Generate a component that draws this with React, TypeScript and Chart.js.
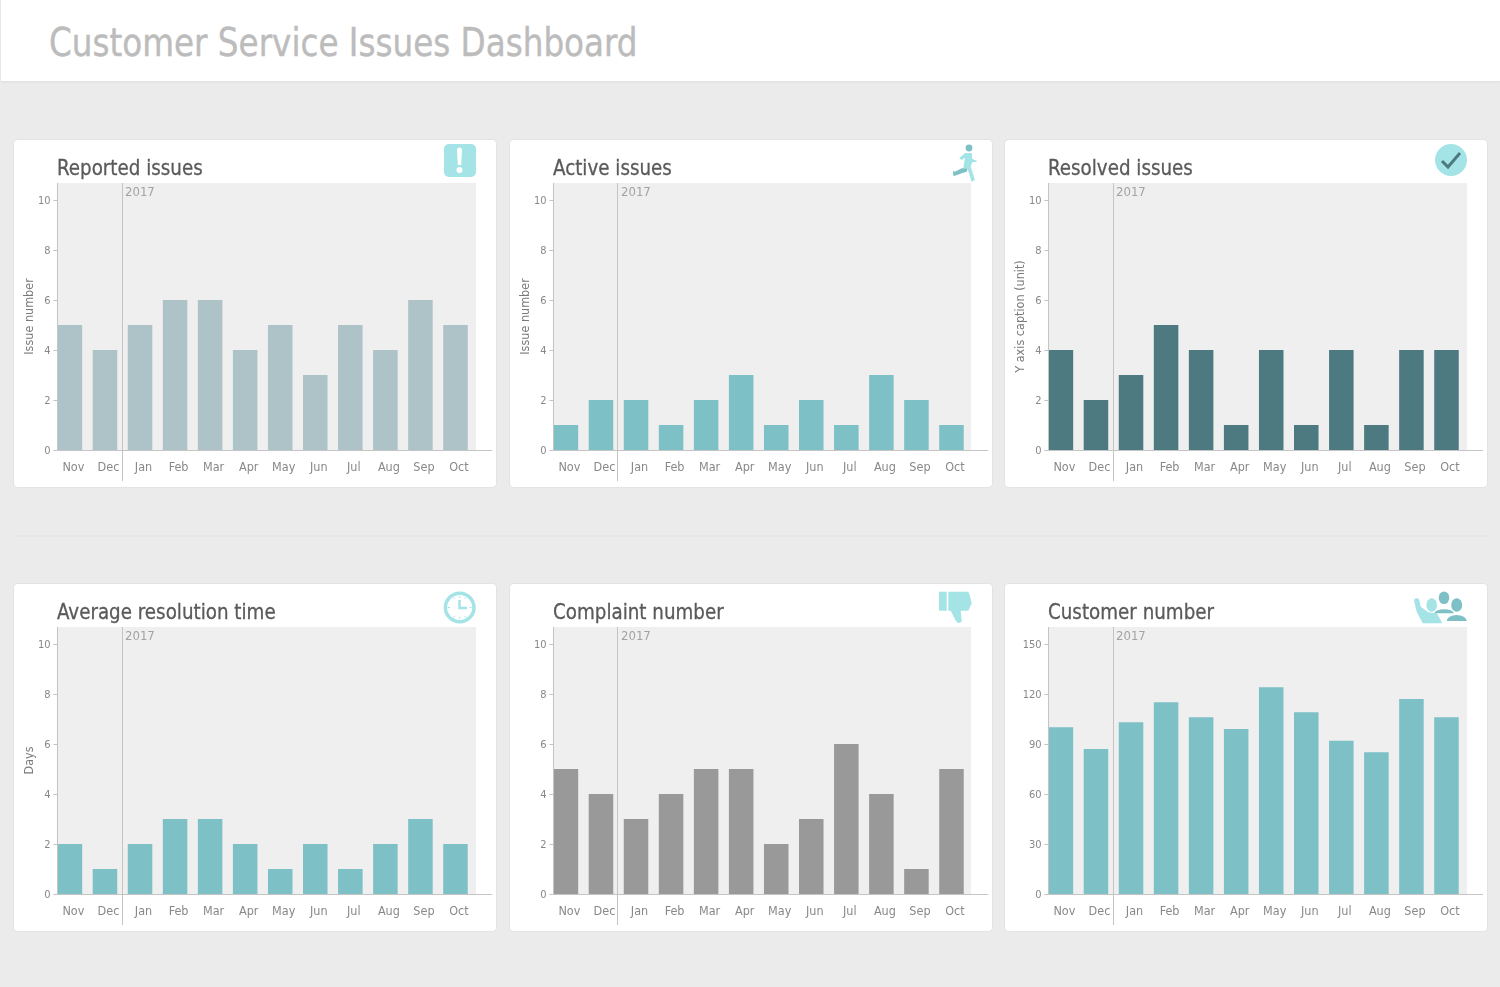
import React, { useEffect, useRef } from "react";
import { Chart, registerables } from "chart.js";

Chart.register(...registerables);

const months = ["Nov", "Dec", "Jan", "Feb", "Mar", "Apr", "May", "Jun", "Jul", "Aug", "Sep", "Oct"];
const reported = [5, 4, 5, 6, 6, 4, 5, 3, 5, 4, 6, 5];
const active = [1, 2, 2, 1, 2, 3, 1, 2, 1, 3, 2, 1];
const resolved = [4, 2, 3, 5, 4, 1, 4, 1, 4, 1, 4, 4];
const avgTime = [2, 1, 2, 3, 3, 2, 1, 2, 1, 2, 3, 2];
const complaints = [5, 4, 3, 4, 5, 5, 2, 3, 6, 4, 1, 5];
const customers = [100, 87, 103, 115, 106, 99, 124, 109, 92, 85, 117, 106];

const FONT = '"DejaVu Sans Condensed", "DejaVu Sans", sans-serif';

type Card = {
  title: string; values: number[]; color: string; yTitle: string;
  yMax: number; step: number; x: number; y: number; titleDx: number; nudge: number;
};

const cards: Card[] = [
  { title: "Reported issues", values: reported, color: "#adc3c7", yTitle: "Issue number", yMax: 10.68, step: 2, x: 14, y: 140, titleDx: 43, nudge: 0 },
  { title: "Active issues", values: active, color: "#7dc0c6", yTitle: "Issue number", yMax: 10.68, step: 2, x: 510, y: 140, titleDx: 43, nudge: -1 },
  { title: "Resolved issues", values: resolved, color: "#4c7a80", yTitle: "Y axis caption (unit)", yMax: 10.68, step: 2, x: 1005, y: 140, titleDx: 43, nudge: 0 },
  { title: "Average resolution time", values: avgTime, color: "#7dc0c6", yTitle: "Days", yMax: 10.68, step: 2, x: 14, y: 584, titleDx: 43, nudge: 0 },
  { title: "Complaint number", values: complaints, color: "#999999", yTitle: "", yMax: 10.68, step: 2, x: 510, y: 584, titleDx: 43, nudge: -1 },
  { title: "Customer number", values: customers, color: "#7dc0c6", yTitle: "", yMax: 160.2, step: 30, x: 1005, y: 584, titleDx: 43, nudge: 0 },
];

const CARD_W = 482;
const CARD_H = 347;
const AREA_LEFT = 38.4;
const AREA_TOP = 43;
const AREA_BOTTOM_GAP = 37;
const AREA_RIGHT_GAP = 23;

const makeDecoration = (nudge: number) => ({
  id: "decoration",
  beforeDatasetsDraw(chart: any) {
    const { ctx, chartArea: a } = chart;
    const left = Math.round(a.left + 4.6);
    ctx.save();
    ctx.fillStyle = "#efefef";
    ctx.fillRect(left, a.top, Math.round(a.right + 2.6) + nudge - left, a.bottom - a.top);
    ctx.restore();
  },
  afterDatasetsDraw(chart: any) {
    const { ctx, chartArea: a, scales } = chart;
    const yAxisX = Math.round(a.left + 4.6) + 0.5;
    const base = Math.round(a.bottom) + 0.5;
    ctx.save();
    ctx.strokeStyle = "#c4c4c4";
    ctx.lineWidth = 1;
    ctx.beginPath();
    ctx.moveTo(yAxisX, a.top);
    ctx.lineTo(yAxisX, base);
    ctx.moveTo(yAxisX, base);
    ctx.lineTo(a.right + 19, base);
    scales.y.ticks.forEach((t: any) => {
      const py = Math.round(scales.y.getPixelForValue(t.value)) + 0.5;
      ctx.moveTo(a.left + 1, py);
      ctx.lineTo(yAxisX, py);
    });
    const yearX = Math.floor((scales.x.getPixelForValue(1) + scales.x.getPixelForValue(2)) / 2) + 0.5;
    ctx.moveTo(yearX + nudge, a.top);
    ctx.lineTo(yearX + nudge, a.bottom + 31);
    ctx.stroke();
    ctx.fillStyle = "#a3a3a3";
    ctx.font = `13px ${FONT}`;
    ctx.textAlign = "left";
    ctx.textBaseline = "middle";
    ctx.fillText("2017", yearX + 2.5, a.top + 9.5);
    ctx.restore();
  },
});

function ChartCard({ card }: { card: Card }) {
  const ref = useRef<HTMLCanvasElement | null>(null);
  useEffect(() => {
    const chart = new Chart(ref.current as HTMLCanvasElement, {
      type: "bar",
      data: {
        labels: months,
        datasets: [{
          data: card.values,
          backgroundColor: card.color,
          barPercentage: 0.7,
          categoryPercentage: 1,
        }],
      },
      options: {
        animation: false,
        responsive: false,
        devicePixelRatio: 1,
        layout: { padding: { top: AREA_TOP, right: AREA_RIGHT_GAP, left: 0, bottom: 0 } },
        plugins: { legend: { display: false }, tooltip: { enabled: false }, title: { display: false } },
        scales: {
          x: {
            grid: { display: false, drawTicks: false },
            border: { display: false },
            afterFit: (s: any) => { s.height = AREA_BOTTOM_GAP; },
            ticks: {
              autoSkip: false, maxRotation: 0, padding: 10.5, labelOffset: 3.5,
              color: "#888888", font: { family: FONT, size: 12.5 },
            },
          },
          y: {
            min: 0,
            max: card.yMax,
            grid: { display: false, drawTicks: false },
            border: { display: false },
            afterFit: (s: any) => { s.width = AREA_LEFT; },
            title: {
              display: !!card.yTitle,
              text: card.yTitle,
              color: "#7a7a7a",
              font: { family: FONT, size: 12.5 },
              padding: { top: 8.5, bottom: 0 },
            },
            ticks: {
              stepSize: card.step, includeBounds: false, padding: 1.8, labelOffset: 1,
              color: "#888888", font: { family: FONT, size: 11 },
            },
          },
        },
      },
      plugins: [makeDecoration(card.nudge)],
    } as any);
    return () => chart.destroy();
  }, [card]);
  return (
    <div style={{
      position: "absolute", left: card.x, top: card.y, width: CARD_W, height: CARD_H,
      background: "#fff", borderRadius: 4, boxShadow: "0 0 0 1px #e3e3e3",
    }}>
      <canvas ref={ref} width={CARD_W} height={CARD_H} style={{ display: "block" }} />
      <div style={{
        position: "absolute", left: card.titleDx, top: 14, fontFamily: FONT, fontSize: 22,
        lineHeight: "28px", color: "#5a5a5a", whiteSpace: "nowrap",
        transform: "scaleX(0.924)", transformOrigin: "left center",
        WebkitTextStroke: "0.3px #5a5a5a",
      }}>{card.title}</div>
    </div>
  );
}

function Icons() {
  const light = "#a4e3e6", mid = "#7dc0c6", dark = "#4c7a80";
  return (
    <svg width={1500} height={987} style={{ position: "absolute", left: 0, top: 0, pointerEvents: "none" }}>
      {/* exclamation */}
      <rect x={444} y={144} width={32} height={33} rx={5} fill={light} />
      <path d="M457 150 a2.5 2.5 0 0 1 5 0 L461.2 165 h-3.4 Z" fill="#fff" />
      <circle cx={459.5} cy={170} r={3} fill="#fff" />
      {/* runner */}
      <circle cx={969} cy={148} r={3.4} fill={mid} />
      <path d="M961.7 168.3 H967.7 L966.7 171.7 L961.7 173.3 L955 175.7 H953.3 L953 171 L955 171.7 Z" fill={mid} />
      <path d="M965 153 H971.7 L972.3 159 L976.7 160.7 V161.7 L972.3 162.3 L970.7 166.7 L975 180 L971.7 181.7 L967.3 168.3 H963.3 L964 163.3 L965 157.7 L961.7 160 L959.3 158.3 Z" fill={light} />
      {/* check */}
      <circle cx={1451} cy={160} r={16} fill={light} />
      <path d="M1442 161 L1448 167 L1460 153" fill="none" stroke={dark} strokeWidth={3} />
      {/* clock */}
      <circle cx={459.7} cy={607.5} r={14.3} fill="#fff" stroke={light} strokeWidth={3.5} />
      <path d="M459.5 600 V608 H467" fill="none" stroke={light} strokeWidth={2.5} />
      <path d="M459.7 596v2M459.7 617v2M448 607.5h2M469.5 607.5h2M453.5 597.5l1 1.5M466 597.5l-1 1.5M453.5 617.5l1 -1.5M466 617.5l-1 -1.5" stroke={light} strokeWidth={1} />
      {/* thumb */}
      <rect x={939} y={591.7} width={7.7} height={19} fill={light} />
      <path d="M948.3 591.7 H968.3 L970 596 L971.7 603.3 L968.3 610.7 H960.7 L961.7 621.7 L958.3 623.3 L955.7 620.7 L950.7 610.7 H948.3 Z" fill={light} />
      {/* customers */}
      <path d="M1414.3 601.7 A2.6 2.6 0 0 1 1419.3 600 L1420.7 606.7 L1428.3 612.3 L1436.7 613.3 L1441.7 621.7 V623.3 H1422.7 L1416.7 611.7 Z" fill={light} />
      <ellipse cx={1431.7} cy={605} rx={5.3} ry={6.7} fill={light} />
      <ellipse cx={1444} cy={597.7} rx={5.3} ry={6.3} fill={mid} />
      <path d="M1434.3 613.3 A10 5 0 0 1 1454 613.3 Z" fill={mid} />
      <ellipse cx={1456.7} cy={605} rx={5.5} ry={6.7} fill={mid} />
      <path d="M1446.7 621 A10 6 0 0 1 1466.7 621 Z" fill={mid} />
    </svg>
  );
}

export default function App() {
  return (
    <div style={{ position: "absolute", left: 0, top: 0, width: 1500, height: 987, background: "#ebebeb", overflow: "hidden" }}>
      <div style={{
        position: "absolute", left: 1, top: 0, width: 1499, height: 81, background: "#fff",
        boxShadow: "0 1px 2px #dddddd",
      }}>
        <div style={{
          position: "absolute", left: 48, top: 19, fontFamily: FONT, fontSize: 39,
          lineHeight: "48px", color: "#bcbcbc", whiteSpace: "nowrap",
          transform: "scaleX(0.93)", transformOrigin: "left center",
          WebkitTextStroke: "0.4px #bcbcbc",
        }}>Customer Service Issues Dashboard</div>
      </div>
      <div style={{ position: "absolute", left: 14, top: 535, width: 1474, height: 2, background: "#e6e6e6" }} />
      {cards.map((c) => <ChartCard key={c.title} card={c} />)}
      <Icons />
    </div>
  );
}
